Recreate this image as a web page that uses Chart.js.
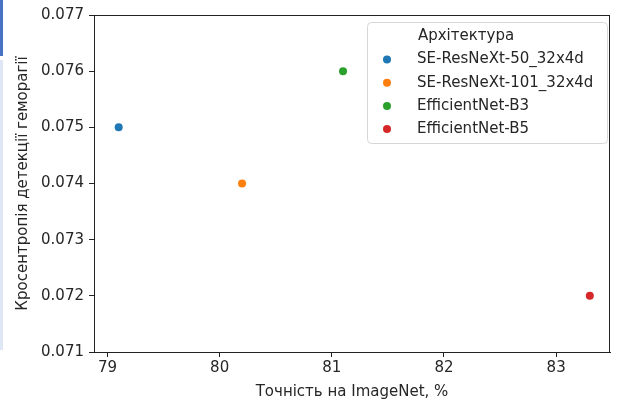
<!DOCTYPE html>
<html>
<head>
<meta charset="utf-8">
<script src="https://cdn.jsdelivr.net/npm/chart.js@4.4.1/dist/chart.umd.min.js"></script>
<style>
  html, body { margin: 0; padding: 0; background: #fff; }
  #wrap { position: relative; width: 617px; height: 403px; }
  #strip1 { position: absolute; left: 0; top: 0; width: 3px; height: 56px; background: #4a72c4; }
  #strip2 { position: absolute; left: 0; top: 60px; width: 3px; height: 290px; background: #dfe6f5; }
</style>
</head>
<body>
<div id="wrap">
  <canvas id="myChart" width="617" height="403"></canvas>
  <div id="strip1"></div>
  <div id="strip2"></div>
</div>
<script>
const models = ['SE-ResNeXt-50_32x4d', 'SE-ResNeXt-101_32x4d', 'EfficientNet-B3', 'EfficientNet-B5'];
const accuracy = [79.1, 80.2, 81.1, 83.3];
const crossEntropy = [0.075, 0.074, 0.076, 0.072];
const colors = ['#1f77b4', '#ff7f0e', '#2ca02c', '#d62728'];
const xTicks = [79, 80, 81, 82, 83];
const yTicks = [0.071, 0.072, 0.073, 0.074, 0.075, 0.076, 0.077];

const FONT = 'DejaVu Sans';

// spines on top/right + legend box like matplotlib
const frameAndLegend = {
  id: 'frameAndLegend',
  afterDraw(chart) {
    const { ctx, chartArea } = chart;
    ctx.save();
    ctx.strokeStyle = '#222';
    ctx.lineWidth = 1;
    ctx.strokeRect(chartArea.left + 0.5, chartArea.top + 0.5,
      chartArea.right - chartArea.left - 1, chartArea.bottom - chartArea.top);

    // legend
    const lx = 367, ly = 22, lw = 240, lh = 121;
    ctx.beginPath();
    ctx.roundRect(lx + 0.5, ly + 0.5, lw, lh, 4);
    ctx.fillStyle = 'rgba(255,255,255,0.8)';
    ctx.fill();
    ctx.strokeStyle = '#d6d6d6';
    ctx.stroke();

    ctx.font = '15px ' + FONT;
    ctx.fillStyle = '#262626';
    ctx.textBaseline = 'middle';
    ctx.textAlign = 'center';
    ctx.fillText('Архітектура', 466, 36);
    ctx.textAlign = 'left';
    for (let i = 0; i < models.length; i++) {
      const y = 59.5 + i * 23.2;
      ctx.beginPath();
      ctx.arc(387, y, 4, 0, Math.PI * 2);
      ctx.fillStyle = colors[i];
      ctx.fill();
      ctx.fillStyle = '#262626';
      ctx.fillText(models[i], 417, y);
    }
    ctx.restore();
  }
};

const datasets = models.map((m, i) => ({
  label: m,
  data: [{ x: accuracy[i], y: crossEntropy[i] }],
  backgroundColor: colors[i],
  borderColor: colors[i],
  borderWidth: 0,
  pointRadius: 4,
  pointHoverRadius: 4
}));

const ctx = document.getElementById('myChart');
new Chart(ctx, {
  type: 'scatter',
  data: { datasets },
  plugins: [frameAndLegend],
  options: {
    responsive: false,
    animation: false,
    layout: { padding: { top: 15, right: 7, left: 0, bottom: 0 } },
    plugins: { legend: { display: false }, tooltip: { enabled: false } },
    scales: {
      x: {
        type: 'linear',
        min: 78.88, max: 83.48,
        afterBuildTicks: s => { s.ticks = xTicks.map(v => ({ value: v })); },
        afterFit: s => { s.height = 51; },
        grid: { drawOnChartArea: false, drawTicks: true, tickLength: 5, color: '#222' },
        border: { display: true, color: '#222' },
        ticks: { color: '#262626', font: { family: FONT, size: 15 }, padding: 2, maxRotation: 0 },
        title: {
          display: true, text: 'Точність на ImageNet, %', color: '#262626',
          font: { family: FONT, size: 15 }, padding: { top: 2, bottom: 2 }
        }
      },
      y: {
        min: 0.071, max: 0.077,
        afterBuildTicks: s => { s.ticks = yTicks.map(v => ({ value: v })); },
        afterFit: s => { s.width = 94; },
        grid: { drawOnChartArea: false, drawTicks: true, tickLength: 5, color: '#222' },
        border: { display: true, color: '#222' },
        ticks: {
          color: '#262626', font: { family: FONT, size: 15 }, padding: 5,
          callback: v => v.toFixed(3)
        },
        title: {
          display: true, text: 'Кросентропія детекції геморагії', color: '#262626',
          font: { family: FONT, size: 15 }, padding: { top: 14, bottom: 4 }
        }
      }
    }
  }
});
</script>
</body>
</html>
